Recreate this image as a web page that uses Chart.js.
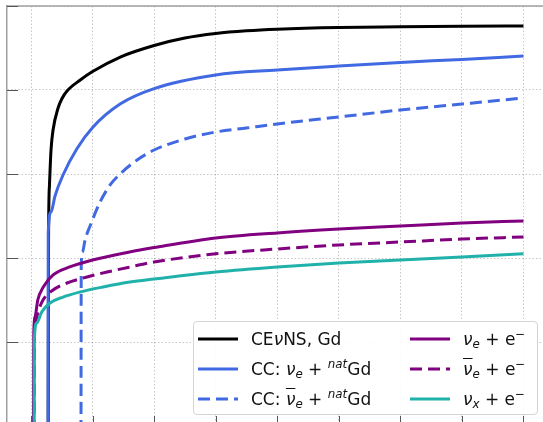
<!DOCTYPE html>
<html lang="en">
  <head>
    <meta charset="UTF-8" />
    <title>Cumulative events</title>
    <script src="https://cdn.jsdelivr.net/npm/chart.js"></script>
    <style>
      html, body { margin: 0; padding: 0; overflow: hidden; background: #fff; }
      #wrap { position: relative; width: 585px; height: 440px; }
      #legend {
        position: absolute; left: 193px; top: 321px;
        width: 345px; height: 94px;
        border: 1px solid #d4d4d4; border-radius: 4px;
        background: rgba(255, 255, 255, 0.9);
        display: grid; grid-auto-flow: column;
        grid-template-columns: 212px auto; grid-template-rows: repeat(3, 30px);
        padding: 2px 0 0 4px; box-sizing: border-box;
        font-family: "DejaVu Sans", sans-serif; font-size: 17px; color: #111;
      }
      .item { display: flex; align-items: center; white-space: nowrap; }
      .item svg { margin-right: 13px; flex: none; }
      .m { font-style: italic; }
      .bar { text-decoration: overline; }
      sub, sup { font-size: 0.7em; line-height: 0; }
      sup { vertical-align: 0.55em; }
      sub { vertical-align: -0.25em; }
    </style>
  </head>
  <body>
    <div id="wrap">
      <canvas id="eventsChart"></canvas>
      <div id="legend"></div>
    </div>

    <script>
      // x: time axis (tick labels are cut off in the source figure)
      const xTicks = [0, 1, 2, 3, 4, 5, 6, 7, 8];
      const yTicks = [1, 10, 100, 1000, 10000, 100000];
      // counts start from "nothing": 0.01 stands in for zero on the log axis

      // CEvNS on Gd
      const tCevns = [0.275, 0.285, 0.3, 0.325, 0.358, 0.44, 0.504, 0.585, 0.8, 1.0, 1.45, 2, 2.5, 3, 3.5, 4, 5, 6, 7, 8];
      const nCevns = [0.01, 159, 740, 1930, 3340, 6110, 7930, 9730, 13150, 16600, 24700, 33900, 41600, 47100, 50700, 53000, 55500, 56500, 57300, 57800];

      // CC: nu_e + natGd
      const tCcNue = [0.275, 0.28, 0.325, 0.39, 0.52, 0.748, 1.008, 1.447, 2, 3, 4, 5, 6, 7, 8];
      const nCcNue = [0.01, 199, 353, 547, 973, 2010, 3630, 6810, 10400, 15100, 17300, 19300, 21300, 23100, 25400];

      // CC: anti-nu_e + natGd
      const tCcNuebar = [0.81, 0.816, 0.837, 0.878, 0.959, 1.122, 1.285, 1.447, 1.724, 2, 2.5, 3, 3.5, 4, 5, 6, 7, 8];
      const nCcNuebar = [0.01, 80.3, 118, 164, 240, 464, 740, 1000, 1470, 1930, 2610, 3160, 3530, 3940, 4770, 5780, 6810, 8030];

      // elastic scattering on electrons
      const tEsNue = [0.037, 0.045, 0.065, 0.11, 0.2, 0.36, 0.63, 1.0, 1.6, 2, 3, 4, 5, 6, 7, 8];
      const nEsNue = [0.01, 12.8, 19.9, 31.6, 45.2, 62.8, 78.2, 94.7, 118, 133, 173, 199, 221, 240, 261, 276];

      const tEsNuebar = [0.04, 0.057, 0.081, 0.114, 0.195, 0.358, 0.585, 0.91, 1.236, 1.61, 2, 3, 4, 5, 6, 7, 8];
      const nEsNuebar = [0.01, 13.9, 18.3, 22.8, 31.6, 41.6, 50.4, 59.4, 68.1, 78.2, 89.6, 112, 128, 143, 155, 168, 178];

      const tEsNux = [0.049, 0.054, 0.093, 0.174, 0.309, 0.52, 0.797, 1.171, 1.61, 2, 3, 4, 5, 6, 7, 8];
      const nEsNux = [0.01, 10.6, 16.8, 22.8, 29.1, 34.3, 39.4, 45.2, 51.8, 56.2, 68.1, 78.2, 87.1, 94.7, 103, 112];

      const labels = ["CEνNS, Gd", "CC: νe + natGd", "CC: ν̄e + natGd", "νe + e−", "ν̄e + e−", "νx + e−"];
      const legendHtml = [
        'CE<span class="m">ν</span>NS, Gd',
        'CC: <span class="m">ν<sub>e</sub></span> + <sup class="m">nat</sup>Gd',
        'CC: <span class="m"><span class="bar">ν</span><sub>e</sub></span> + <sup class="m">nat</sup>Gd',
        '<span class="m">ν<sub>e</sub></span> + e<sup>−</sup>',
        '<span class="m"><span class="bar">ν</span><sub>e</sub></span> + e<sup>−</sup>',
        '<span class="m">ν<sub>x</sub></span> + e<sup>−</sup>',
      ];
      const colors = ["#000000", "#4169e1", "#4169e1", "#800080", "#800080", "#20b2aa"];
      const dashes = [[], [], [12, 6], [], [12, 6], []];

      const pts = (t, n) => t.map((x, i) => ({ x: x, y: n[i] }));
      const series = [
        pts(tCevns, nCevns), pts(tCcNue, nCcNue), pts(tCcNuebar, nCcNuebar),
        pts(tEsNue, nEsNue), pts(tEsNuebar, nEsNuebar), pts(tEsNux, nEsNux),
      ];

      const datasets = series.map((d, i) => ({
        label: labels[i],
        data: d,
        borderColor: colors[i],
        borderDash: dashes[i],
        borderWidth: 3,
        pointRadius: 0,
        fill: false,
        cubicInterpolationMode: "monotone",
        order: series.length - i, // last series drawn on top
      }));

      // frame top edge + inward tick marks (matplotlib look)
      const frameTicks = {
        id: "frameTicks",
        afterDraw(chart) {
          const { ctx, chartArea: a, scales } = chart;
          ctx.save();
          ctx.strokeStyle = "#a0a0a0";
          ctx.lineWidth = 1.5;
          ctx.beginPath();
          ctx.moveTo(a.left, a.top);
          ctx.lineTo(a.right, a.top);
          ctx.stroke();
          ctx.strokeStyle = "#555";
          ctx.lineWidth = 1;
          ctx.beginPath();
          scales.x.ticks.forEach((t) => {
            const px = Math.round(scales.x.getPixelForValue(t.value)) + 0.5;
            ctx.moveTo(px, a.bottom);
            ctx.lineTo(px, a.bottom - 10);
          });
          scales.y.ticks.forEach((t) => {
            const py = Math.round(scales.y.getPixelForValue(t.value)) + 0.5;
            ctx.moveTo(a.left, py);
            ctx.lineTo(a.left + 11, py);
          });
          ctx.stroke();
          ctx.restore();
        },
      };

      const gridStyle = { color: "rgba(0,0,0,0.22)", lineWidth: 1, drawTicks: false };

      new Chart(document.getElementById("eventsChart"), {
        type: "line",
        data: { datasets: datasets },
        options: {
          responsive: true,
          maintainAspectRatio: false,
          animation: false,
          layout: { padding: { left: 7, top: 6, right: 0, bottom: 14 } },
          plugins: { legend: { display: false }, tooltip: { enabled: false } },
          scales: {
            x: {
              type: "linear",
              min: -0.39,
              max: 9,
              ticks: { display: false },
              grid: gridStyle,
              border: { display: false, dash: [1.5, 2] },
              afterBuildTicks: (s) => { s.ticks = xTicks.map((v) => ({ value: v })); },
            },
            y: {
              type: "logarithmic",
              min: 1,
              max: 100000,
              ticks: { display: false },
              grid: gridStyle,
              border: { display: true, color: "#a0a0a0", width: 1.5, dash: [1.5, 2] },
              afterBuildTicks: (s) => { s.ticks = yTicks.map((v) => ({ value: v })); },
            },
          },
        },
        plugins: [frameTicks],
      });

      // legend, two columns like the original
      const legend = document.getElementById("legend");
      legendHtml.forEach((html, i) => {
        const dash = dashes[i].length ? ' stroke-dasharray="' + dashes[i].join(" ") + '"' : "";
        legend.insertAdjacentHTML(
          "beforeend",
          '<div class="item"><svg width="40" height="8"><line x1="0" y1="4" x2="40" y2="4" stroke="' +
            colors[i] + '" stroke-width="3"' + dash + ' /></svg><span>' + html + "</span></div>"
        );
      });
    </script>
  </body>
</html>
